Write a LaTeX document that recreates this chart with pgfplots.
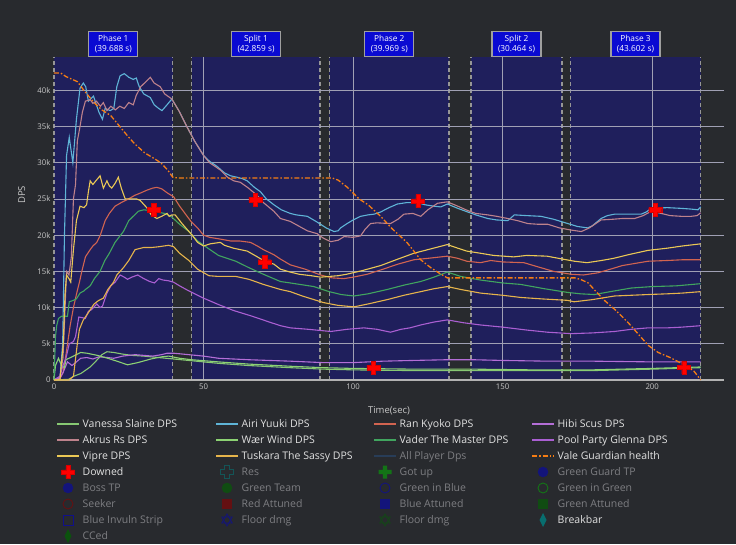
\documentclass[border=0pt]{standalone}
\usepackage{pgfplots}
\pgfplotsset{compat=1.18}
\usepackage{fontspec}
\setmainfont{Open Sans}
\definecolor{bgdark}{RGB}{40,42,46}
\definecolor{navyph}{RGB}{31,31,92}
\definecolor{ticklab}{RGB}{200,200,200}
\definecolor{legtxt}{RGB}{225,225,225}
\definecolor{fadetxt}{RGB}{125,126,130}
\definecolor{cVanessa}{RGB}{135,200,115}
\definecolor{cAiri}{RGB}{95,180,215}
\definecolor{cRan}{RGB}{210,100,80}
\definecolor{cHibi}{RGB}{180,110,215}
\definecolor{cAkrus}{RGB}{190,130,140}
\definecolor{cWaer}{RGB}{140,210,115}
\definecolor{cVader}{RGB}{65,165,95}
\definecolor{cPool}{RGB}{170,95,210}
\definecolor{cVipre}{RGB}{235,200,85}
\definecolor{cTuskara}{RGB}{230,180,75}
\definecolor{cAll}{RGB}{40,80,130}
\definecolor{cHealth}{RGB}{245,125,20}
\definecolor{phasebox}{RGB}{10,10,210}
\definecolor{phaseline}{RGB}{150,150,150}
\definecolor{gridc}{RGB}{160,160,180}
\definecolor{cTeal}{RGB}{0,128,128}
\definecolor{cGreenG}{RGB}{0,190,0}
\definecolor{cBlueM}{RGB}{0,0,200}
\definecolor{cDGreen}{RGB}{0,100,0}
\definecolor{cDRed}{RGB}{140,0,0}

\newcommand{\crosspath}{%
 \pgfpathmoveto{\pgfpoint{-0.34\pgfplotmarksize}{\pgfplotmarksize}}%
 \pgfpathlineto{\pgfpoint{0.34\pgfplotmarksize}{\pgfplotmarksize}}%
 \pgfpathlineto{\pgfpoint{0.34\pgfplotmarksize}{0.34\pgfplotmarksize}}%
 \pgfpathlineto{\pgfpoint{\pgfplotmarksize}{0.34\pgfplotmarksize}}%
 \pgfpathlineto{\pgfpoint{\pgfplotmarksize}{-0.34\pgfplotmarksize}}%
 \pgfpathlineto{\pgfpoint{0.34\pgfplotmarksize}{-0.34\pgfplotmarksize}}%
 \pgfpathlineto{\pgfpoint{0.34\pgfplotmarksize}{-\pgfplotmarksize}}%
 \pgfpathlineto{\pgfpoint{-0.34\pgfplotmarksize}{-\pgfplotmarksize}}%
 \pgfpathlineto{\pgfpoint{-0.34\pgfplotmarksize}{-0.34\pgfplotmarksize}}%
 \pgfpathlineto{\pgfpoint{-\pgfplotmarksize}{-0.34\pgfplotmarksize}}%
 \pgfpathlineto{\pgfpoint{-\pgfplotmarksize}{0.34\pgfplotmarksize}}%
 \pgfpathlineto{\pgfpoint{-0.34\pgfplotmarksize}{0.34\pgfplotmarksize}}%
 \pgfpathclose}
\pgfdeclareplotmark{pcross}{\crosspath\pgfusepathqfillstroke}
\tikzset{phlab/.style={fill=phasebox, draw=gray!75, line width=1.2pt, text=white, align=center, font=\fontsize{8.3}{9.5}\selectfont, inner sep=1.5pt, minimum width=49pt, minimum height=25pt, anchor=south},
 legt/.style={anchor=base west, inner sep=0pt, font=\fontsize{10.5}{12}\selectfont, text=legtxt},
 legf/.style={legt, text=fadetxt}}
\pgfplotsset{phfill/.style={draw=none, fill=navyph, forget plot},
 phdash/.style={phaseline, dash pattern=on 4pt off 3pt, line width=1.2pt, forget plot},
 gridl/.style={gridc, line width=0.8pt, forget plot}}
% legend helpers: #1 x (line start), #2 y (row centre), all in pt
\newcommand{\legline}[4]{\draw[#3] (#1pt,#2pt) -- (#1pt+22pt,#2pt); \node[legt] at (#1pt+25.5pt,#2pt-3.7pt) {#4};}
\newcommand{\plusp}{(-2.2pt,6.5pt) -- (2.2pt,6.5pt) -- (2.2pt,2.2pt) -- (6.5pt,2.2pt) -- (6.5pt,-2.2pt) -- (2.2pt,-2.2pt) -- (2.2pt,-6.5pt) -- (-2.2pt,-6.5pt) -- (-2.2pt,-2.2pt) -- (-6.5pt,-2.2pt) -- (-6.5pt,2.2pt) -- (-2.2pt,2.2pt) -- cycle}

\begin{document}
\begin{tikzpicture}
\fill[bgdark] (0,0) rectangle (736pt,544pt);
\begin{axis}[
  clip=false,
  at={(54pt,164pt)}, anchor=south west,
  width=670pt, height=323pt, scale only axis,
  xmin=0, xmax=224, ymin=0, ymax=44.6,
  axis line style={draw=none},
  major tick length=0pt,
  xtick={0,50,100,150,200},
  ytick={0,5,10,15,20,25,30,35,40},
  yticklabels={0,5k,10k,15k,20k,25k,30k,35k,40k},
  tick label style={font=\fontsize{7.8}{9}\selectfont, text=ticklab},
  /pgf/number format/assume math mode=true,
  xlabel={Time(sec)}, ylabel={DPS},
  label style={font=\fontsize{9.5}{11}\selectfont, text=ticklab},
  xlabel style={at={(axis description cs:0.5,-0.096)}, anchor=center},
  ylabel style={at={(axis description cs:-0.048,0.573)}, anchor=center},
  every axis plot/.append style={line width=1.1pt},
]
\addplot[phfill] coordinates {(0,44.6)(39.69,44.6)} \closedcycle;
\addplot[phfill] coordinates {(46.1,44.6)(88.96,44.6)} \closedcycle;
\addplot[phfill] coordinates {(92.1,44.6)(132.07,44.6)} \closedcycle;
\addplot[phfill] coordinates {(139.4,44.6)(169.86,44.6)} \closedcycle;
\addplot[phfill] coordinates {(172.6,44.6)(216.2,44.6)} \closedcycle;
\addplot[phdash] coordinates {(0,0)(0,44.6)};
\addplot[phdash] coordinates {(39.69,0)(39.69,44.6)};
\addplot[phdash] coordinates {(46.1,0)(46.1,44.6)};
\addplot[phdash] coordinates {(88.96,0)(88.96,44.6)};
\addplot[phdash] coordinates {(92.1,0)(92.1,44.6)};
\addplot[phdash] coordinates {(132.07,0)(132.07,44.6)};
\addplot[phdash] coordinates {(139.4,0)(139.4,44.6)};
\addplot[phdash] coordinates {(169.86,0)(169.86,44.6)};
\addplot[phdash] coordinates {(172.6,0)(172.6,44.6)};
\addplot[phdash] coordinates {(216.2,0)(216.2,44.6)};
\addplot[gridl] coordinates {(0,5)(224,5)};
\addplot[gridl] coordinates {(0,10)(224,10)};
\addplot[gridl] coordinates {(0,15)(224,15)};
\addplot[gridl] coordinates {(0,20)(224,20)};
\addplot[gridl] coordinates {(0,25)(224,25)};
\addplot[gridl] coordinates {(0,30)(224,30)};
\addplot[gridl] coordinates {(0,35)(224,35)};
\addplot[gridl] coordinates {(0,40)(224,40)};
\addplot[gridl] coordinates {(50,0)(50,44.6)};
\addplot[gridl] coordinates {(100,0)(100,44.6)};
\addplot[gridl] coordinates {(150,0)(150,44.6)};
\addplot[gridl] coordinates {(200,0)(200,44.6)};
\addplot[gray!60, line width=1.2pt, forget plot] coordinates {(0,0)(224,0)};

% Vanessa Slaine
\addplot[cVanessa] coordinates {(0,0)(5,0.1)(6.5,0.5)(9,0.9)(12.1,1.8)(14,2.6)(16,3.5)(17.7,3.9)(20,3.8)(22.6,3.6)(26,3.4)(30,3.3)(35,3.1)(40,2.9)(45,2.7)(55,2.3)(65,2.0)(79,1.7)(90,1.5)(100,1.4)(120,1.3)(140,1.3)(160,1.3)(180,1.3)(200,1.5)(216.2,1.7)};
% Airi Yuuki
\addplot[cAiri] coordinates {(0,0)(2,0.3)(2.9,5)(3.5,20)(4.2,31)(5.1,33.5)(6.3,30)(7.5,36)(8.7,40.3)(9.8,41)(10.6,40.5)(11.5,38.5)(13.2,39.2)(15,37)(16.2,36)(17.1,37.5)(18.8,37.2)(20,37.5)(21,40.5)(22.1,42)(23.5,42.3)(25,41.8)(26.5,41.5)(27.5,41.7)(28.5,40.5)(30,39.5)(32.2,39)(33.5,38)(35,37.5)(36.1,37.2)(37.8,38)(39.4,38.8)(42,37)(44.4,35)(47,33)(50,31)(52,30.2)(54.5,29.5)(57,28.6)(59,28.2)(61.2,28)(63,27.8)(64.6,27.5)(67,26.6)(69,26)(71,25)(73.5,24.2)(76,23.5)(79,23)(81,22.8)(84.7,22.6)(88,21.8)(91,21)(93.6,20.5)(95,20.6)(95.8,21)(98,21.6)(100,22.1)(102.5,22.6)(105,22.8)(107,22.9)(109.2,23.2)(112,23.8)(114.8,24.3)(118,24.5)(121.5,24.5)(124,24.2)(127,24)(129.3,23.9)(131.5,24.3)(135,23.7)(138.3,23.2)(141,22.8)(145,22.3)(148,22.1)(151.7,22.0)(153.9,22.8)(158,22.7)(162.8,22.6)(167,22.2)(171.8,21.6)(175,21.2)(178.4,21)(180,21.3)(182.9,22.3)(185,22.7)(187.4,22.9)(191,22.9)(196.3,22.9)(198,23.2)(199.7,23.7)(205,23.8)(209.7,23.7)(213,23.6)(215.3,23.5)(216.2,23.9)};
% Ran Kyoko
\addplot[cRan] coordinates {(0,0)(2,0.2)(3,1)(4,3.5)(5.4,7.5)(6.5,10)(7.6,12)(8.5,13.5)(9.3,15)(10.5,17)(12.1,18)(13,18.5)(14.3,19)(15.5,20)(17.1,22)(18.5,23)(20.4,24)(22.5,24.5)(24.9,25)(27,25.5)(28.8,25.8)(31,26.2)(33,26.5)(34.4,26.6)(36,26.4)(38,25.8)(40,25.3)(42,24)(45.6,22)(48,21)(50,20)(52,19.7)(55,19.5)(59,19.2)(62,19.2)(65.7,19.0)(68,18.5)(70,18)(73.5,17.3)(75.7,16.7)(79,15.9)(84,15.3)(89.1,14.5)(93,14.1)(96.9,14.0)(100,14.2)(104.7,14.6)(110,15.3)(115,16.0)(120.3,16.6)(125,16.8)(131.5,17.1)(135,16.8)(138,16.4)(142.6,16.2)(146,16.5)(150,16.3)(157.1,16.2)(162,15.6)(167,15.0)(172.9,14.6)(177,14.5)(181.8,14.8)(186,15.3)(190,15.8)(198.6,16.4)(205,16.5)(210,16.6)(216.2,16.6)};
% Hibi Scus (low purple)
\addplot[cHibi] coordinates {(0,0)(2,0.3)(3,1)(4.5,2.5)(6,2)(7.5,2.5)(8.9,3)(11,3.1)(13,2.9)(15,3.2)(18,3.1)(20,3.0)(23,3.3)(27.1,3.5)(30,3.4)(33,3.3)(36,3.5)(37.8,3.7)(40,3.7)(45,3.5)(50,3.3)(55,3.0)(65,2.8)(79,2.6)(90,2.4)(100,2.4)(110,2.6)(120,2.7)(131.5,2.8)(140,2.8)(150,2.7)(165,2.6)(180,2.6)(200,2.5)(216.2,2.5)};
% Akrus Rs
\addplot[cAkrus] coordinates {(0,0)(2,0.5)(3,3)(4.2,15)(5,14.5)(5.8,17)(6.5,25)(7.2,27)(7.8,33)(8.7,35)(9.5,37)(10.5,38.5)(12.1,38.7)(13,38.2)(14.2,38.5)(15.5,37.8)(16.5,38.3)(17.7,37.2)(19,37.8)(20.5,37.3)(22,37.8)(23.5,37.5)(25,38.3)(26.5,38)(27.5,39.3)(29,40.5)(31,41.3)(32.2,41.8)(33.5,41)(35.5,40.5)(37,39.5)(39.4,38.8)(42,37)(44.4,35)(47,33)(50,31)(52,30)(55.6,29)(58,28)(60.1,27.5)(62.3,27.3)(65,26.5)(67.9,25.5)(70,24.5)(73.5,23.3)(75.7,22.3)(79,21.9)(84.7,20.6)(88,20.2)(90,19.6)(92.5,19.1)(95,19.3)(97,19.8)(100,19.7)(102.5,19.9)(104,20.8)(105.8,21.6)(108,21.7)(112.5,21.6)(115,22.2)(117,22.9)(120,23.0)(122.6,22.6)(125,23.5)(128.2,24.4)(131.5,24.6)(135,24.0)(138.3,23.4)(141,23.0)(145,22.8)(148,22.6)(151.7,22.3)(155,22.0)(158.4,21.6)(162,21.5)(165.1,21.5)(169,21.0)(172.9,20.7)(176.3,20.5)(179,21.0)(182.9,22.1)(187,22.2)(190,22.3)(194.1,22.3)(197,22.7)(199.7,23.3)(203,23.0)(206,22.7)(209.7,22.6)(213,22.6)(215,22.7)(216.2,23.1)};
% Waer Wind
\addplot[cWaer] coordinates {(0,0)(0.5,2)(1.5,3)(2.5,2)(3.5,1.7)(4,2.8)(6,3.2)(8.9,3.8)(11,3.7)(14.5,3.4)(18,3)(21,2.6)(24.6,2.1)(28,2.4)(32.4,2.9)(36,3.2)(38.3,3.3)(42,3.0)(46,2.8)(55,2.5)(65,2.2)(79,1.9)(90,1.7)(100,1.6)(120,1.5)(140,1.5)(160,1.4)(180,1.4)(200,1.6)(216.2,1.8)};
% Vader The Master
\addplot[cVader] coordinates {(0,0)(0.5,6)(0.9,7.5)(1.5,8.5)(2.5,8.8)(4.5,8.8)(5.1,10.8)(6.5,11)(7.5,11.2)(8.7,12)(10,12.3)(10.5,12.5)(12.1,13)(13.5,14)(15.4,15)(17,16.5)(18.5,17.5)(20.4,19)(23.2,20.5)(25,22)(28.2,23.3)(30,23.5)(32,23.4)(34.4,23.2)(37,23)(39.4,22.5)(42,21.5)(45.1,20.5)(48,19.2)(51.8,18.1)(55,17.2)(60.8,16.4)(65.2,15.5)(70,14.6)(75.7,13.6)(79,13.4)(86.9,12.9)(92,12.2)(96,11.8)(100.3,11.6)(105,11.9)(111.4,12.5)(117,13.1)(122.6,13.6)(127,14.2)(131.5,14.9)(136,14.3)(142.6,13.8)(150,13.4)(156,13.2)(164,12.6)(171.6,12.1)(176,11.9)(180.7,11.8)(186,12.2)(193,12.7)(200,12.9)(208,13.0)(216.2,13.3)};
% Pool Party Glenna (mid purple)
\addplot[cPool] coordinates {(0,0)(2,0.5)(3,2)(4,3)(5.1,5)(6.5,5.3)(7.2,6)(8.3,8.7)(9.5,8.6)(10.5,8.5)(11.5,9.5)(12.5,9.7)(14.3,10.5)(15.4,10)(16.2,10.2)(17.7,12)(19,13)(20.4,13.5)(22.1,14.5)(23.5,14.2)(24.6,13.9)(26,14.2)(28,14.5)(30,14)(32,13.6)(33.6,13.4)(35,14)(36.5,13.8)(38.3,13.7)(40,13.5)(42,13.0)(45.1,12.3)(50,11.3)(55.1,10.4)(60,9.6)(66.3,8.8)(72,8.0)(75.7,7.5)(79,7.2)(85,7.0)(92.5,6.7)(98,7.0)(103.6,7.2)(108,7.0)(112.5,6.6)(116,7.0)(119,7.2)(122.6,7.6)(127,8.0)(131.5,8.3)(137,7.9)(142.6,7.6)(150,7.3)(158,6.9)(165,6.6)(172.9,6.4)(180,6.5)(187.4,6.7)(193,7.0)(198.6,7.2)(205,7.2)(210,7.3)(216.2,7.5)};
% Vipre
\addplot[cVipre] coordinates {(0,0)(2,0.1)(3.1,5)(3.7,12)(4.2,14.5)(5,14)(5.6,13.5)(6.5,18)(7.5,22)(8.7,24)(10,23.8)(10.9,24.2)(11.5,26)(12.1,27.5)(13,27)(14,27.5)(15.4,28.2)(16.5,26.5)(17.7,27.5)(18.5,26.8)(19.3,26.5)(20.5,27.2)(21.5,28)(22.5,26.5)(23.8,25)(25.5,25)(27.6,25)(28.8,24.8)(31,23.8)(32.5,22.8)(34.4,22.3)(36,22.6)(37.8,23.0)(38.5,22.6)(39.4,22.8)(40.5,22.8)(43,21.5)(46.2,20)(48,19)(50,18.5)(52.2,18.8)(55.6,19.0)(57,18.6)(60,18.2)(64.6,17.8)(68,17.0)(70.4,16.4)(73.5,16.0)(75.7,15.3)(79,14.9)(82,14.6)(86,14.4)(89.1,14.2)(92,14.3)(95,14.4)(97.8,14.6)(103,15.1)(109.2,15.8)(115,16.7)(120.3,17.5)(125,18.0)(131.5,18.7)(135,18.2)(138,17.8)(142.6,17.5)(147,17.2)(153.7,17.0)(158,17.2)(164.8,17.1)(170,16.7)(174,16.4)(178.2,16.2)(183,16.5)(187.1,16.8)(192,17.3)(198.6,17.9)(205,18.2)(210,18.5)(216.2,18.8)};
% Tuskara The Sassy
\addplot[cTuskara] coordinates {(0,0)(5,0)(6.5,0.5)(7.8,5)(8.5,7)(9.8,8.3)(11,9)(13.4,10.5)(15,11)(16.5,11.3)(18,12.5)(19.9,13.5)(21,14.5)(23.2,15.5)(25,16.5)(27.1,18.0)(30,18.3)(32.7,18.3)(35,18.4)(38.3,18.6)(40,18.4)(42,17.5)(45.1,16.5)(48,15.3)(51.8,14.4)(55,14.3)(60.8,14.3)(65.2,13.9)(70,13.2)(75.7,12.5)(79,12.2)(83,11.6)(86.9,11.1)(90,10.7)(95,10.3)(100.3,10.1)(105,10.5)(111.4,11.1)(117,11.7)(122.6,12.2)(127,12.6)(131.5,12.9)(136,12.5)(142.6,12.0)(150,11.7)(156,11.4)(163,11.2)(171.6,11.0)(173.9,10.8)(180,11.1)(187.4,11.6)(193,11.7)(198.6,11.8)(205,11.9)(210,12.0)(216.2,12.2)};
% Vale Guardian health
\addplot[cHealth, line width=1.3pt, dash pattern=on 5pt off 2pt on 1.5pt off 2pt] coordinates {(0,42.4)(2.2,42.4)(4,41.9)(7.8,41.2)(10,40)(13.4,38.3)(16,37.3)(19,36.5)(22,35)(24.6,33.7)(27,32.6)(30.2,31.4)(33,30.7)(35.7,30.0)(38,29)(39.7,28)(41.3,27.9)(93,27.9)(95,27.6)(98.1,26.6)(102,25.0)(105,24.2)(109.2,22.6)(113,20.9)(118,19.0)(122.6,16.6)(126,15.5)(129,14.7)(131.5,14.1)(174.1,14.1)(176,13.9)(178.6,13.4)(181,12.3)(184,11)(187.6,9.7)(192,7.9)(195,6.5)(198.6,4.8)(202,3.8)(206,3.1)(209.8,2.3)(212,1.8)(214,1.2)(216.2,0)};
% Downed
\addplot[only marks, mark=pcross, mark size=6.5pt, mark options={fill=red, draw=red!85!black, line width=0.4pt, solid}] coordinates {(33.3,23.5)(67.3,24.9)(70.4,16.3)(106.8,1.7)(121.7,24.7)(201,23.5)(210.6,1.75)};

\node[phlab] at (axis cs:19.84,44.6) {Phase 1\\(39.688 s)};
\node[phlab] at (axis cs:67.53,44.6) {Split 1\\(42.859 s)};
\node[phlab] at (axis cs:112.09,44.6) {Phase 2\\(39.969 s)};
\node[phlab] at (axis cs:154.63,44.6) {Split 2\\(30.464 s)};
\node[phlab] at (axis cs:194.4,44.6) {Phase 3\\(43.602 s)};
\end{axis}

% ---------- legend (drawn by hand; rows at 120,104,...,8 pt; columns at 57,216,374,532 pt)
\legline{57}{120}{cVanessa, line width=1.3pt}{Vanessa Slaine DPS}
\legline{216}{120}{cAiri, line width=1.3pt}{Airi Yuuki DPS}
\legline{374}{120}{cRan, line width=1.3pt}{Ran Kyoko DPS}
\legline{532}{120}{cHibi, line width=1.3pt}{Hibi Scus DPS}
\legline{57}{104}{cAkrus, line width=1.3pt}{Akrus Rs DPS}
\legline{216}{104}{cWaer, line width=1.3pt}{Wær Wind DPS}
\legline{374}{104}{cVader, line width=1.3pt}{Vader The Master DPS}
\legline{532}{104}{cPool, line width=1.3pt}{Pool Party Glenna DPS}
\legline{57}{88}{cVipre, line width=1.3pt}{Vipre DPS}
\legline{216}{88}{cTuskara, line width=1.3pt}{Tuskara The Sassy DPS}
\draw[cAll, line width=1.3pt, opacity=0.5] (374pt,88pt) -- (396pt,88pt);
\node[legf] at (399.5pt,84.3pt) {All Player Dps};
\legline{532}{88}{cHealth, line width=1.3pt, dash pattern=on 5pt off 2pt on 1.5pt off 2pt}{Vale Guardian health}
% row 4
\begin{scope}[shift={(68pt,72pt)}]\filldraw[fill=red, draw=red!85!black, line width=0.4pt] \plusp;\end{scope}
\node[legt] at (82.5pt,68.3pt) {Downed};
\begin{scope}[shift={(227pt,72pt)}, opacity=0.5]\draw[cTeal, line width=0.9pt] \plusp;\end{scope}
\node[legf] at (241.5pt,68.3pt) {Res};
\begin{scope}[shift={(385pt,72pt)}, opacity=0.5]\fill[cGreenG] \plusp;\end{scope}
\node[legf] at (399.5pt,68.3pt) {Got up};
\fill[cBlueM, opacity=0.5] (543pt,72pt) circle (5.3pt);
\node[legf] at (557.5pt,68.3pt) {Green Guard TP};
% row 5
\fill[cBlueM, opacity=0.5] (68pt,56pt) circle (5.3pt);
\node[legf] at (82.5pt,52.3pt) {Boss TP};
\fill[cDGreen, opacity=0.6] (227pt,56pt) circle (5.3pt);
\node[legf] at (241.5pt,52.3pt) {Green Team};
\draw[cBlueM, opacity=0.5, line width=0.9pt] (385pt,56pt) circle (5pt);
\node[legf] at (399.5pt,52.3pt) {Green in Blue};
\draw[cGreenG, opacity=0.5, line width=0.9pt] (543pt,56pt) circle (5pt);
\node[legf] at (557.5pt,52.3pt) {Green in Green};
% row 6
\draw[cDRed, opacity=0.6, line width=0.9pt] (68pt,40pt) circle (5pt);
\node[legf] at (82.5pt,36.3pt) {Seeker};
\fill[cDRed, opacity=0.6] (222pt,35pt) rectangle (232pt,45pt);
\node[legf] at (241.5pt,36.3pt) {Red Attuned};
\fill[cBlueM, opacity=0.5] (380pt,35pt) rectangle (390pt,45pt);
\node[legf] at (399.5pt,36.3pt) {Blue Attuned};
\fill[cDGreen, opacity=0.6] (538pt,35pt) rectangle (548pt,45pt);
\node[legf] at (557.5pt,36.3pt) {Green Attuned};
% row 7
\draw[cBlueM, opacity=0.6, line width=0.9pt] (63pt,19pt) rectangle (73pt,29pt);
\node[legf] at (82.5pt,20.3pt) {Blue Invuln Strip};
\begin{scope}[shift={(227pt,24pt)}, opacity=0.5]\draw[cBlueM, line width=0.8pt] (0,6pt) -- (-5.2pt,-3pt) -- (5.2pt,-3pt) -- cycle (0,-6pt) -- (5.2pt,3pt) -- (-5.2pt,3pt) -- cycle;\end{scope}
\node[legf] at (241.5pt,20.3pt) {Floor dmg};
\begin{scope}[shift={(385pt,24pt)}, opacity=0.5]\draw[cDGreen, line width=0.8pt] (0,6pt) -- (-5.2pt,-3pt) -- (5.2pt,-3pt) -- cycle (0,-6pt) -- (5.2pt,3pt) -- (-5.2pt,3pt) -- cycle;\end{scope}
\node[legf] at (399.5pt,20.3pt) {Floor dmg};
\fill[cTeal, opacity=0.8] (543pt,31pt) -- (546.5pt,24pt) -- (543pt,17pt) -- (539.5pt,24pt) -- cycle;
\node[legt] at (557.5pt,20.3pt) {Breakbar};
% row 8
\fill[cDGreen, opacity=0.7] (68pt,15pt) -- (71.5pt,8pt) -- (68pt,1pt) -- (64.5pt,8pt) -- cycle;
\node[legf] at (82.5pt,4.3pt) {CCed};
\end{tikzpicture}
\end{document}
